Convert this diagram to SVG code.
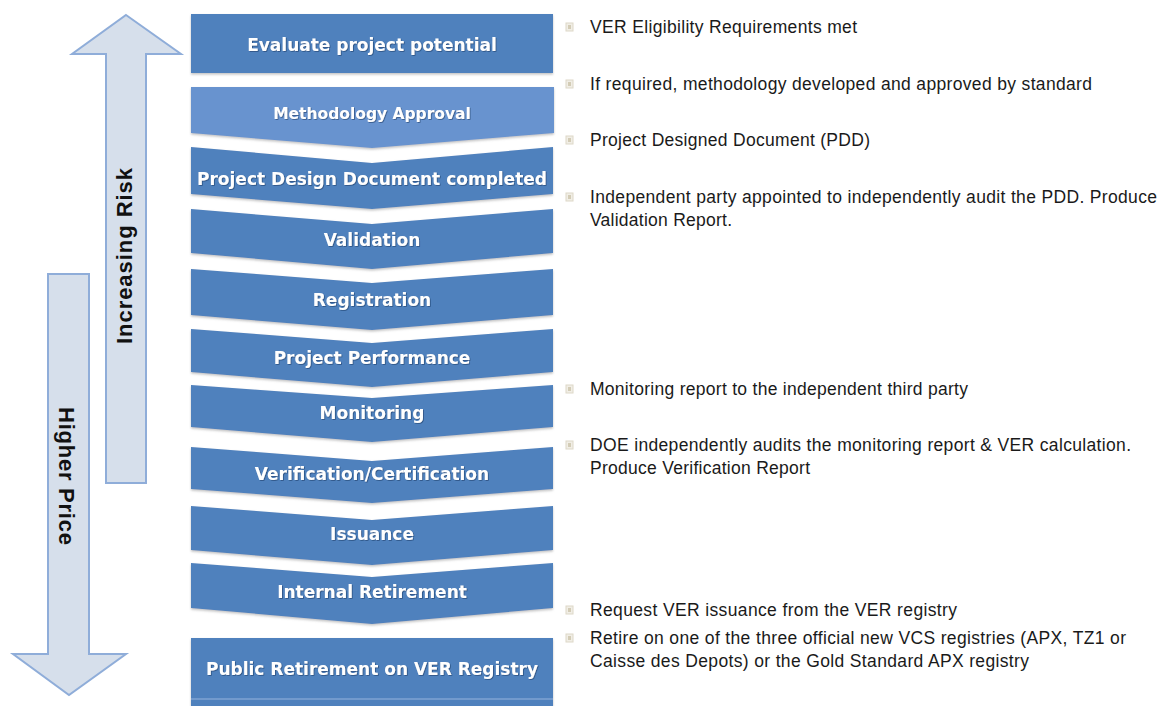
<svg xmlns="http://www.w3.org/2000/svg" width="1161" height="706" viewBox="0 0 1161 706">
<defs>
<filter id="ts" x="-5%" y="-30%" width="110%" height="160%">
<feDropShadow dx="0.8" dy="0.8" stdDeviation="0.6" flood-color="#1f3d66" flood-opacity="0.7"/>
</filter>
<filter id="ss" x="-2%" y="-5%" width="104%" height="115%">
<feDropShadow dx="0" dy="1.5" stdDeviation="0.8" flood-color="#9a9a9a" flood-opacity="0.6"/>
</filter>
<style>
.step{fill:#4f81bd;filter:url(#ss)}
.step2{fill:#6893cf;filter:url(#ss)}
.lbl{font-family:"DejaVu Sans",Verdana,sans-serif;font-weight:bold;font-size:17px;fill:#ffffff;text-anchor:middle;filter:url(#ts)}
.note{font-family:"Liberation Sans",Arial,sans-serif;font-size:17.5px;fill:#1a1a1a}
.big{fill:#d6dfeb;stroke:#8fadd9;stroke-width:2;stroke-linejoin:miter}
.vt{font-family:"Liberation Sans",Arial,sans-serif;font-weight:bold;font-size:22px;fill:#111111;text-anchor:middle}
.bo{fill:#f1eee6;stroke:#ddd8c8;stroke-width:1}
.bi{fill:#d3ccb6}
</style>
</defs>
<rect width="1161" height="706" fill="#ffffff"/>

<g id="arrows">
<g id="risk-arrow">
<polygon class="big" points="126,15 181,54 146,54 146,483 106,483 106,54 72,54"/>
<text class="vt" transform="translate(132,256) rotate(-90)" textLength="176">Increasing Risk</text>
</g>
<g id="price-arrow">
<polygon class="big" points="48,274 89,274 89,654 126,654 69,695 13,654 48,654"/>
<text class="vt" transform="translate(59,476) rotate(90)" textLength="138">Higher Price</text>
</g>
</g>

<g id="connectors"></g>

<g id="step1">
<rect class="step" x="191" y="14" width="362" height="59"/>
<text class="lbl" x="372" y="51">Evaluate project potential</text>
</g>
<g id="step2">
<polygon class="step2" points="191,87 554,87 554,133 372,148 191,133"/>
<text class="lbl" x="372" y="118.5" style="font-size:15.5px">Methodology Approval</text>
</g>
<g id="step3">
<polygon class="step" points="191,147 372,163 553,147 553,194 372,209 191,194"/>
<text class="lbl" x="372" y="185">Project Design Document completed</text>
</g>
<g id="step4">
<polygon class="step" points="191,209 372,224 553,209 553,253 372,269 191,253"/>
<text class="lbl" x="372" y="246">Validation</text>
</g>
<g id="step5">
<polygon class="step" points="191,269 372,283 553,269 553,315 372,330 191,315"/>
<text class="lbl" x="372" y="306">Registration</text>
</g>
<g id="step6">
<polygon class="step" points="191,329 372,343 553,329 553,372 372,387 191,372"/>
<text class="lbl" x="372" y="364">Project Performance</text>
</g>
<g id="step7">
<polygon class="step" points="191,385 372,398 553,385 553,427 372,442 191,427"/>
<text class="lbl" x="372" y="419">Monitoring</text>
</g>
<g id="step8">
<polygon class="step" points="191,447 372,461 553,447 553,489 372,503 191,489"/>
<text class="lbl" x="372" y="480">Verification/Certification</text>
</g>
<g id="step9">
<polygon class="step" points="191,506 372,520 553,506 553,550 372,565 191,550"/>
<text class="lbl" x="372" y="540">Issuance</text>
</g>
<g id="step10">
<polygon class="step" points="191,563 372,577 553,563 553,608 372,624 191,608"/>
<text class="lbl" x="372" y="598">Internal Retirement</text>
</g>
<g id="step11">
<rect class="step" x="191" y="638" width="362" height="68"/>
<line x1="191" y1="699" x2="553" y2="699" stroke="#7ea3d3" stroke-width="1.5"/>
<text class="lbl" x="372" y="675">Public Retirement on VER Registry</text>
</g>

<g id="notes">
<g id="note1">
<rect class="bo" x="566" y="23" width="7" height="8"/><rect class="bi" x="568" y="25" width="3" height="4"/>
<text class="note" x="590" y="33" textLength="267">VER Eligibility Requirements met</text>
</g>
<g id="note2">
<rect class="bo" x="566" y="80" width="7" height="8"/><rect class="bi" x="568" y="82" width="3" height="4"/>
<text class="note" x="590" y="90" textLength="502">If required, methodology developed and approved by standard</text>
</g>
<g id="note3">
<rect class="bo" x="566" y="136" width="7" height="8"/><rect class="bi" x="568" y="138" width="3" height="4"/>
<text class="note" x="590" y="146" textLength="280">Project Designed Document (PDD)</text>
</g>
<g id="note4">
<rect class="bo" x="566" y="193" width="7" height="8"/><rect class="bi" x="568" y="195" width="3" height="4"/>
<text class="note" x="590" y="203" textLength="567">Independent party appointed to independently audit the PDD. Produce</text>
<text class="note" x="590" y="226" textLength="142">Validation Report.</text>
</g>
<g id="note5">
<rect class="bo" x="566" y="385" width="7" height="8"/><rect class="bi" x="568" y="387" width="3" height="4"/>
<text class="note" x="590" y="395" textLength="378">Monitoring report to the independent third party</text>
</g>
<g id="note6">
<rect class="bo" x="566" y="441" width="7" height="8"/><rect class="bi" x="568" y="443" width="3" height="4"/>
<text class="note" x="590" y="451" textLength="541">DOE independently audits the monitoring report &amp; VER calculation.</text>
<text class="note" x="590" y="474" textLength="220">Produce Verification Report</text>
</g>
<g id="note7">
<rect class="bo" x="566" y="606" width="7" height="8"/><rect class="bi" x="568" y="608" width="3" height="4"/>
<text class="note" x="590" y="616" textLength="367">Request VER issuance from the VER registry</text>
</g>
<g id="note8">
<rect class="bo" x="566" y="634" width="7" height="8"/><rect class="bi" x="568" y="636" width="3" height="4"/>
<text class="note" x="590" y="644" textLength="536">Retire on one of the three official new VCS registries (APX, TZ1 or</text>
<text class="note" x="590" y="667" textLength="439">Caisse des Depots) or the Gold Standard APX registry</text>
</g>
</g>
</svg>
